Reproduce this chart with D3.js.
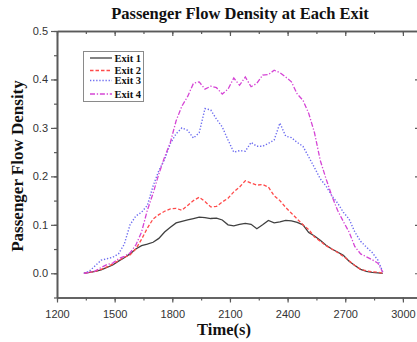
<!DOCTYPE html>
<html>
<head>
<meta charset="utf-8">
<script src="https://cdn.jsdelivr.net/npm/d3@7"></script>
<style>
  html, body { margin: 0; padding: 0; background: #fff; }
  svg { display: block; }
</style>
</head>
<body>
<svg id="chart" width="417" height="342"></svg>
<script>
// ---- Data ----
const times = [1340,1370,1400,1430,1460,1490,1520,1550,1580,1610,1640,1670,1700,1730,1760,1790,1820,1850,1880,1910,1940,1970,2000,2030,2060,2090,2120,2150,2180,2210,2240,2270,2300,2330,2360,2390,2420,2450,2480,2510,2540,2570,2600,2630,2660,2690,2720,2750,2780,2810,2840,2870,2895];
const exit1 = [0.000,0.002,0.004,0.007,0.012,0.017,0.025,0.032,0.040,0.050,0.057,0.060,0.064,0.072,0.085,0.095,0.104,0.107,0.110,0.113,0.116,0.115,0.113,0.114,0.110,0.100,0.098,0.101,0.103,0.101,0.092,0.100,0.109,0.104,0.106,0.109,0.108,0.105,0.100,0.084,0.077,0.068,0.058,0.050,0.044,0.037,0.025,0.016,0.008,0.004,0.002,0.001,0.000];
const exit2 = [0.000,0.002,0.004,0.008,0.013,0.019,0.026,0.033,0.038,0.050,0.070,0.093,0.112,0.121,0.128,0.133,0.134,0.130,0.140,0.150,0.157,0.148,0.137,0.138,0.147,0.155,0.168,0.178,0.191,0.186,0.182,0.183,0.178,0.160,0.150,0.136,0.124,0.112,0.100,0.090,0.075,0.066,0.057,0.050,0.043,0.035,0.026,0.016,0.008,0.005,0.003,0.002,0.000];
const exit3 = [0.000,0.005,0.016,0.027,0.030,0.033,0.040,0.060,0.100,0.118,0.126,0.140,0.180,0.212,0.235,0.268,0.288,0.300,0.295,0.279,0.290,0.340,0.337,0.318,0.302,0.275,0.250,0.253,0.252,0.270,0.262,0.262,0.268,0.275,0.310,0.283,0.280,0.270,0.262,0.240,0.218,0.195,0.180,0.160,0.145,0.126,0.112,0.085,0.066,0.054,0.043,0.027,0.003];
const exit4 = [0.000,0.002,0.005,0.012,0.018,0.021,0.030,0.035,0.042,0.058,0.085,0.130,0.165,0.205,0.240,0.270,0.315,0.345,0.365,0.392,0.395,0.380,0.386,0.383,0.370,0.380,0.403,0.388,0.405,0.385,0.392,0.409,0.410,0.419,0.414,0.405,0.395,0.370,0.357,0.330,0.290,0.233,0.195,0.160,0.130,0.107,0.085,0.055,0.040,0.034,0.028,0.021,0.002];
const seriesNames = ["Exit 1","Exit 2","Exit 3","Exit 4"];
const xTicks = [1200,1500,1800,2100,2400,2700,3000];
const yTicks = [0.0,0.1,0.2,0.3,0.4,0.5];

const seriesValues = [exit1, exit2, exit3, exit4];
const styles = [
  {color:"#404040", dash:null, width:1.3},
  {color:"#ff4a4a", dash:"3.5,2", width:1.3},
  {color:"#6b6bf0", dash:"1.3,1.8", width:1.4},
  {color:"#d545d5", dash:"5,1.8,1.3,1.8", width:1.3}
];

const svg = d3.select("#chart");
const x = d3.scaleLinear().domain([1200, 3089]).range([57, 420]);
const y = d3.scaleLinear().domain([-0.05, 0.5]).range([297.5, 31]);

const serif = "'Liberation Serif','Times New Roman',serif";
const sans = "'Liberation Sans',Arial,sans-serif";
const axisColor = "#5a5a5a";

// Lines
const line = d3.line().x(d => x(d[0])).y(d => y(d[1]));
seriesValues.forEach((vals, i) => {
  const pts = times.map((t, j) => [t, vals[j]]);
  svg.append("path")
    .datum(pts)
    .attr("fill", "none")
    .attr("stroke", styles[i].color)
    .attr("stroke-width", styles[i].width)
    .attr("stroke-dasharray", styles[i].dash)
    .attr("d", line);
});

function styleAxis(g) {
  g.selectAll("path.domain").attr("stroke", axisColor).attr("stroke-width", 1.6);
  g.selectAll(".tick line").attr("stroke", axisColor).attr("stroke-width", 1.2);
  g.selectAll(".tick text").attr("fill", "#333").style("font-family", sans).style("font-size", "11px");
}

const xMinor = d3.range(1200, 3089, 150);
const yMinor = d3.range(-0.05, 0.5001, 0.05).map(v => +v.toFixed(2));

// Bottom axis
const gb = svg.append("g").attr("transform", "translate(0,297.5)");
gb.call(d3.axisBottom(x).tickValues(xMinor).tickSize(3).tickFormat("").tickSizeOuter(0));
styleAxis(gb);
const gb2 = svg.append("g").attr("transform", "translate(0,297.5)");
gb2.call(d3.axisBottom(x).tickValues(xTicks).tickSize(5).tickPadding(8).tickFormat(d3.format("d")).tickSizeOuter(0));
styleAxis(gb2);

// Top axis (ticks inward)
const gt = svg.append("g").attr("transform", "translate(0,31)");
gt.call(d3.axisBottom(x).tickValues(xMinor).tickSize(3).tickFormat("").tickSizeOuter(0));
styleAxis(gt);
const gt2 = svg.append("g").attr("transform", "translate(0,31)");
gt2.call(d3.axisBottom(x).tickValues(xTicks).tickSize(5).tickFormat("").tickSizeOuter(0));
styleAxis(gt2);

// Left axis
const gl = svg.append("g").attr("transform", "translate(57,0)");
gl.call(d3.axisLeft(y).tickValues(yMinor).tickSize(3).tickFormat("").tickSizeOuter(0));
styleAxis(gl);
const gl2 = svg.append("g").attr("transform", "translate(57,0)");
gl2.call(d3.axisLeft(y).tickValues(yTicks).tickSize(6).tickPadding(3).tickFormat(d3.format(".1f")).tickSizeOuter(0));
styleAxis(gl2);

// Right axis (ticks inward)
const gr = svg.append("g").attr("transform", "translate(420,0)");
gr.call(d3.axisLeft(y).tickValues(yTicks).tickSize(5).tickFormat("").tickSizeOuter(0));
styleAxis(gr);

// Title
svg.append("text")
  .attr("x", 240).attr("y", 19)
  .attr("text-anchor", "middle")
  .style("font-family", serif).style("font-weight", "bold").style("font-size", "16.5px")
  .attr("fill", "#111")
  .text("Passenger Flow Density at Each Exit");

// X label
svg.append("text")
  .attr("x", 224).attr("y", 335)
  .attr("text-anchor", "middle")
  .style("font-family", serif).style("font-weight", "bold").style("font-size", "16.5px")
  .attr("fill", "#111")
  .text("Time(s)");

// Y label
svg.append("text")
  .attr("transform", "translate(23,166) rotate(-90)")
  .attr("text-anchor", "middle")
  .style("font-family", serif).style("font-weight", "bold").style("font-size", "17px")
  .attr("fill", "#111")
  .text("Passenger Flow Density");

// Legend
const legend = svg.append("g");
legend.append("rect")
  .attr("x", 83.5).attr("y", 51.5).attr("width", 60).attr("height", 50)
  .attr("fill", "#fff").attr("stroke", "#8a8a8a").attr("stroke-width", 1);
const legendY = [58, 70.5, 80.5, 94];
seriesNames.forEach((name, i) => {
  legend.append("line")
    .attr("x1", 90).attr("x2", 112)
    .attr("y1", legendY[i]).attr("y2", legendY[i])
    .attr("stroke", styles[i].color)
    .attr("stroke-width", styles[i].width)
    .attr("stroke-dasharray", styles[i].dash);
  legend.append("text")
    .attr("x", 114.5).attr("y", legendY[i] + 3.5)
    .style("font-family", serif).style("font-weight", "bold").style("font-size", "10.5px")
    .attr("fill", "#111")
    .text(name);
});
</script>
</body>
</html>
